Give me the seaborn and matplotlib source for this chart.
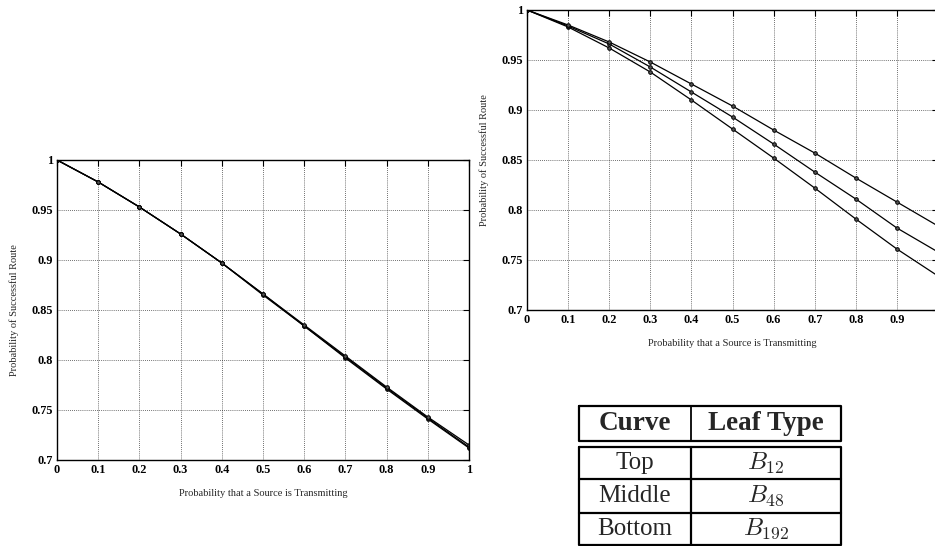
import numpy as np
import pandas as pd
import matplotlib
matplotlib.use("Agg")
import matplotlib.pyplot as plt
import seaborn as sns

# ---------------- data ----------------
p = [0, 0.1, 0.2, 0.3, 0.4, 0.5, 0.6, 0.7, 0.8, 0.9, 1.0]

left_top = [1.0, 0.978, 0.953, 0.926, 0.897, 0.866, 0.835, 0.804, 0.773, 0.743, 0.715]
left_mid = [1.0, 0.978, 0.953, 0.926, 0.897, 0.866, 0.834, 0.803, 0.772, 0.742, 0.713]
left_bot = [1.0, 0.978, 0.953, 0.926, 0.897, 0.865, 0.834, 0.802, 0.771, 0.741, 0.712]

right_top = [1.0, 0.985, 0.968, 0.948, 0.926, 0.904, 0.880, 0.857, 0.832, 0.808, 0.784]
right_mid = [1.0, 0.984, 0.966, 0.943, 0.918, 0.893, 0.866, 0.838, 0.811, 0.782, 0.758]
right_bot = [1.0, 0.983, 0.962, 0.938, 0.910, 0.881, 0.852, 0.822, 0.791, 0.761, 0.734]

xticks = [0, 0.1, 0.2, 0.3, 0.4, 0.5, 0.6, 0.7, 0.8, 0.9, 1.0]
xticklabels = ["0", "0.1", "0.2", "0.3", "0.4", "0.5", "0.6", "0.7", "0.8", "0.9", "1"]
yticks = [0.7, 0.75, 0.8, 0.85, 0.9, 0.95, 1.0]
yticklabels = ["0.7", "0.75", "0.8", "0.85", "0.9", "0.95", "1"]

xlabel = "Probability that a Source is Transmitting"
ylabel = "Probability of Successful Route"

table_header = ["Curve", "Leaf Type"]
table_curves = ["Top", "Middle", "Bottom"]
table_leaves = [r"$B_{12}$", r"$B_{48}$", r"$B_{192}$"]

# ---------------- style ----------------
sns.set_style("white")
plt.rcParams["font.family"] = ["Liberation Serif", "DejaVu Serif"]
plt.rcParams["mathtext.fontset"] = "cm"

fig = plt.figure(figsize=(9.35, 5.46), dpi=100)

W, H = 935.0, 546.0
ax_l = fig.add_axes([57 / W, 1 - 460 / H, 412 / W, 300 / H])
ax_r = fig.add_axes([527 / W, 1 - 310 / H, 411 / W, 300 / H])


def make_df(series):
    rows = []
    for name, vals in series.items():
        for x, y in zip(p, vals):
            rows.append({"p": x, "prob": y, "curve": name})
    return pd.DataFrame(rows)


df_l = make_df({"Top": left_top, "Middle": left_mid, "Bottom": left_bot})
df_r = make_df({"Top": right_top, "Middle": right_mid, "Bottom": right_bot})

for ax, df, right in [(ax_l, df_l, False), (ax_r, df_r, True)]:
    sns.lineplot(data=df, x="p", y="prob", units="curve", estimator=None,
                 color="black", lw=0.9, marker="o", markersize=2.6,
                 markeredgewidth=0.7, markerfacecolor="#555555",
                 markeredgecolor="black", ax=ax, legend=False)
    ax.set_xlim(0, 1)
    ax.set_ylim(0.7, 1.0)
    ax.set_xticks(xticks)
    labs = list(xticklabels)
    if right:
        labs[-1] = ""  # lies beyond the figure edge in the reference
    ax.set_xticklabels(labs)
    ax.set_yticks(yticks)
    ax.set_yticklabels(yticklabels)
    ax.grid(True, linestyle=(0, (1, 1.5)), color="black", lw=0.6, alpha=0.75)
    ax.tick_params(direction="in", top=True, right=True, length=4.5, width=0.8,
                   labelsize=8.8, pad=3, colors="black")
    for lab in ax.get_xticklabels() + ax.get_yticklabels():
        lab.set_fontweight("bold")
    for s in ax.spines.values():
        s.set_visible(True)
        s.set_color("black")
        s.set_linewidth(1.0)
    ax.set_xlabel(xlabel, fontsize=7.5, labelpad=9)
    ax.set_ylabel(ylabel, fontsize=7.5, labelpad=9)

# ---------------- table ----------------
tx0, ty0, tx1, ty1 = 579, 406, 841, 545
tab = fig.add_axes([tx0 / W, 1 - ty1 / H, (tx1 - tx0) / W, (ty1 - ty0) / H])
tab.set_xlim(0, tx1 - tx0)
tab.set_ylim(ty1 - ty0, 0)
tab.axis("off")
lw = 1.6
wd = tx1 - tx0
col = 112
# header box
tab.plot([0, wd, wd, 0, 0], [0, 0, 35, 35, 0], color="black", lw=lw, clip_on=False)
tab.plot([col, col], [0, 35], color="black", lw=lw * 0.8, clip_on=False)
# body box
tab.plot([0, wd, wd, 0, 0], [41, 41, 139, 139, 41], color="black", lw=lw, clip_on=False)
tab.plot([col, col], [41, 139], color="black", lw=lw, clip_on=False)
for yy in [73, 107]:
    tab.plot([0, wd], [yy, yy], color="black", lw=lw, clip_on=False)

tab.text(col / 2, 18, table_header[0], ha="center", va="center",
         fontsize=19.5, fontweight="bold")
tab.text((col + wd) / 2, 18, table_header[1], ha="center", va="center",
         fontsize=19.5, fontweight="bold")
row_y = [57, 90, 123]
for yy, c, lf in zip(row_y, table_curves, table_leaves):
    tab.text(col / 2, yy, c, ha="center", va="center", fontsize=18)
    tab.text((col + wd) / 2, yy, lf, ha="center", va="center", fontsize=18)

fig.savefig("out.png", dpi=100)
